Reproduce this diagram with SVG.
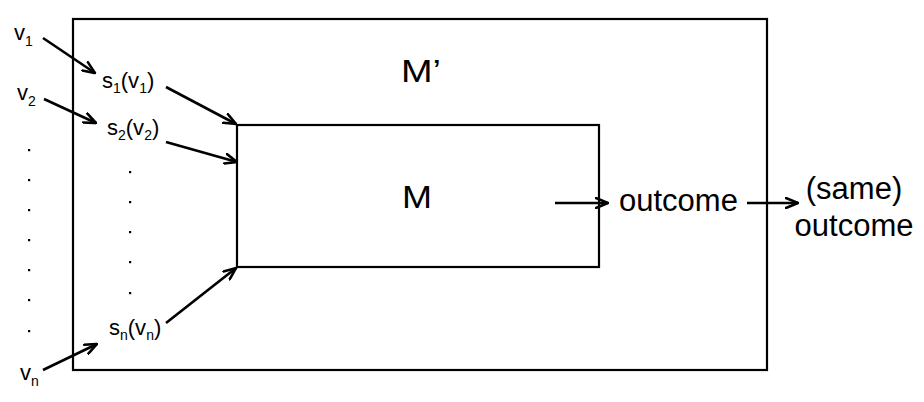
<svg xmlns="http://www.w3.org/2000/svg" width="924" height="402" viewBox="0 0 924 402">
  <style>
    .box { fill: none; stroke: #000; stroke-width: 2.2; }
    .conn { fill: none; stroke: #000; stroke-width: 2.6; marker-end: url(#arrow); }
    .lbl { font-family: "Liberation Sans", Arial, sans-serif; fill: #000; }
    .sm { font-size: 22px; }
    .sub { font-size: 14px; }
    .big { font-size: 31px; }
    .dot { fill: #000; }
  </style>
  <defs>
    <marker id="arrow" markerUnits="userSpaceOnUse" viewBox="0 0 14 12" refX="13" refY="6" markerWidth="14" markerHeight="12" orient="auto">
      <path d="M1,1 L13,6 L1,11" fill="none" stroke="#000" stroke-width="2.6" stroke-linecap="round" stroke-linejoin="miter"/>
    </marker>
  </defs>

  <!-- outer mechanism M' -->
  <g id="m-prime">
    <rect class="box" x="73" y="19" width="694" height="351"/>
    <text class="lbl big" x="401" y="82" textLength="40" lengthAdjust="spacingAndGlyphs">M’</text>
  </g>

  <!-- inner mechanism M -->
  <g id="m">
    <rect class="box" x="237" y="125" width="362" height="142"/>
    <text class="lbl big" x="402" y="208" textLength="30" lengthAdjust="spacingAndGlyphs">M</text>
  </g>

  <!-- inputs v1..vn -->
  <g id="v1"><text class="lbl sm" x="14" y="40">v<tspan class="sub" dy="6">1</tspan></text></g>
  <g id="v2"><text class="lbl sm" x="17" y="100">v<tspan class="sub" dy="6">2</tspan></text></g>
  <g id="vn"><text class="lbl sm" x="20" y="380">v<tspan class="sub" dy="6">n</tspan></text></g>
  <g id="v-dots">
    <rect class="dot" x="28" y="149" width="2.2" height="2.2"/>
    <rect class="dot" x="28" y="179" width="2.2" height="2.2"/>
    <rect class="dot" x="28" y="209" width="2.2" height="2.2"/>
    <rect class="dot" x="28" y="239" width="2.2" height="2.2"/>
    <rect class="dot" x="28" y="269" width="2.2" height="2.2"/>
    <rect class="dot" x="28" y="299" width="2.2" height="2.2"/>
    <rect class="dot" x="28" y="330" width="2.2" height="2.2"/>
  </g>

  <!-- strategies s_i(v_i) -->
  <g id="s1"><text class="lbl sm" x="102" y="88">s<tspan class="sub" dy="5">1</tspan><tspan dy="-5">(v</tspan><tspan class="sub" dy="5">1</tspan><tspan dy="-5">)</tspan></text></g>
  <g id="s2"><text class="lbl sm" x="107" y="135">s<tspan class="sub" dy="5">2</tspan><tspan dy="-5">(v</tspan><tspan class="sub" dy="5">2</tspan><tspan dy="-5">)</tspan></text></g>
  <g id="sn"><text class="lbl sm" x="109" y="335">s<tspan class="sub" dy="5">n</tspan><tspan dy="-5">(v</tspan><tspan class="sub" dy="5">n</tspan><tspan dy="-5">)</tspan></text></g>
  <g id="s-dots">
    <rect class="dot" x="129" y="171" width="2.2" height="2.2"/>
    <rect class="dot" x="129" y="201" width="2.2" height="2.2"/>
    <rect class="dot" x="129" y="231" width="2.2" height="2.2"/>
    <rect class="dot" x="129" y="261" width="2.2" height="2.2"/>
    <rect class="dot" x="129" y="292" width="2.2" height="2.2"/>
  </g>

  <!-- outcomes -->
  <g id="outcome"><text class="lbl big" x="619" y="211">outcome</text></g>
  <g id="same-outcome">
    <text class="lbl big" x="854" y="199" text-anchor="middle">(same)</text>
    <text class="lbl big" x="854" y="236" text-anchor="middle">outcome</text>
  </g>

  <!-- connectors -->
  <g id="connectors">
    <line class="conn" x1="43" y1="38" x2="95" y2="73"/>
    <line class="conn" x1="44" y1="99" x2="96" y2="123"/>
    <line class="conn" x1="43" y1="370" x2="97" y2="344"/>
    <line class="conn" x1="166" y1="87" x2="236" y2="124"/>
    <line class="conn" x1="166" y1="142" x2="237" y2="162"/>
    <line class="conn" x1="166" y1="323" x2="236" y2="268"/>
    <line class="conn" x1="555" y1="203" x2="608" y2="203"/>
    <line class="conn" x1="747" y1="203" x2="798" y2="203"/>
  </g>
</svg>
